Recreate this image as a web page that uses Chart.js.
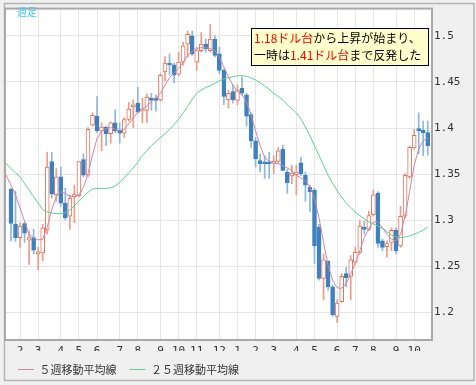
<!DOCTYPE html>
<html>
<head>
<meta charset="utf-8">
<script src="https://cdn.jsdelivr.net/npm/chart.js@4.4.0/dist/chart.umd.min.js"></script>
<style>
  html, body { margin: 0; padding: 0; background: #f0f0f0; }
  #c { display: block; }
</style>
</head>
<body>
<canvas id="c" width="476" height="385"></canvas>
<script>
// weekly candles, index 0 = first week shown
const opens = [1.3335,1.2954,1.2811,1.2964,1.2783,1.2811,1.2634,1.2644,1.2893,1.3637,
  1.3274,1.3470,1.3185,1.3043,1.3256,1.3267,1.3658,1.3488,1.4032,1.4128,
  1.3968,1.4011,1.3940,1.4057,1.3979,1.3943,1.4093,1.4228,1.4271,1.4182,
  1.4192,1.4324,1.4324,1.4306,1.4609,1.4705,1.4687,1.4584,1.4715,1.4911,
  1.5000,1.4715,1.4840,1.4911,1.4840,1.4964,1.4804,1.4626,1.4306,1.4395,
  1.4299,1.4431,1.4360,1.4146,1.3861,1.3648,1.3630,1.3630,1.3619,1.3637,
  1.3772,1.3523,1.3480,1.3495,1.3623,1.3488,1.3356,1.3327,1.2925,1.2367,
  1.2555,1.2278,1.1957,1.2117,1.2420,1.2391,1.2545,1.2651,1.2918,1.2900,
  1.3060,1.3292,1.2776,1.2712,1.2758,1.2893,1.2722,1.3043,1.3470,1.3783,
  1.3993,1.3979,1.3950];
const highs = [1.3345,1.3317,1.2972,1.2979,1.2883,1.2900,1.2705,1.2954,1.3737,1.3737,
  1.3559,1.3577,1.3345,1.3274,1.3381,1.3637,1.3719,1.4004,1.4164,1.4342,
  1.4057,1.4021,1.4068,1.4199,1.4057,1.4110,1.4278,1.4306,1.4441,1.4324,
  1.4370,1.4377,1.4360,1.4591,1.4776,1.4804,1.4705,1.4822,1.4929,1.5053,
  1.5053,1.4876,1.5036,1.4964,1.5125,1.5000,1.4876,1.4644,1.4413,1.4466,
  1.4466,1.4555,1.4377,1.4164,1.3897,1.3719,1.3701,1.3737,1.3701,1.3790,
  1.3815,1.3552,1.3594,1.3594,1.3683,1.3523,1.3381,1.3345,1.2954,1.2634,
  1.2562,1.2295,1.2135,1.2420,1.2491,1.2616,1.2705,1.2996,1.2989,1.3096,
  1.3327,1.3310,1.2794,1.2776,1.2918,1.2918,1.3150,1.3505,1.3808,1.3986,
  1.4164,1.4075,1.4075];
const lows = [1.2776,1.2769,1.2705,1.2758,1.2520,1.2634,1.2463,1.2562,1.2847,1.3239,
  1.3203,1.3150,1.3007,1.2900,1.2972,1.3256,1.3470,1.3470,1.4021,1.3950,
  1.3754,1.3808,1.3836,1.3950,1.3836,1.3897,1.4075,1.4004,1.4164,1.4057,
  1.4057,1.4192,1.4182,1.4288,1.4512,1.4573,1.4491,1.4566,1.4680,1.4769,
  1.4787,1.4626,1.4822,1.4822,1.4822,1.4769,1.4591,1.4253,1.4217,1.4271,
  1.4253,1.4360,1.4021,1.3790,1.3577,1.3523,1.3452,1.3452,1.3505,1.3612,
  1.3534,1.3290,1.3395,1.3274,1.3480,1.3203,1.3096,1.2530,1.2349,1.2135,
  1.2242,1.1957,1.1890,1.2107,1.2278,1.2135,1.2527,1.2634,1.2847,1.2883,
  1.3043,1.2705,1.2669,1.2598,1.2669,1.2634,1.2705,1.3025,1.3452,1.3772,
  1.3719,1.3701,1.3705];
const closes = [1.2964,1.2811,1.2936,1.2858,1.2811,1.2676,1.2651,1.2918,1.3577,1.3285,
  1.3470,1.3185,1.3025,1.3239,1.3274,1.3637,1.3488,1.3986,1.4139,1.3968,
  1.4011,1.3940,1.4057,1.3968,1.3943,1.4093,1.4206,1.4253,1.4171,1.4206,
  1.4335,1.4299,1.4299,1.4573,1.4705,1.4684,1.4573,1.4715,1.4893,1.5018,
  1.4804,1.4840,1.4911,1.4858,1.4964,1.4787,1.4626,1.4342,1.4377,1.4306,
  1.4413,1.4377,1.4128,1.3861,1.3665,1.3612,1.3612,1.3612,1.3637,1.3754,
  1.3541,1.3406,1.3512,1.3523,1.3505,1.3381,1.3310,1.2722,1.2367,1.2569,
  1.2278,1.1975,1.2100,1.2391,1.2377,1.2569,1.2651,1.2936,1.2900,1.3050,
  1.3274,1.2747,1.2705,1.2747,1.2890,1.2669,1.3043,1.3488,1.3790,1.3922,
  1.3968,1.3950,1.3808];

// moving averages, first value belongs to week -2 (left of the plot edge)
const maStart = -2;
const ma5 = [1.3594,1.3480,
  1.3381,1.3274,1.3132,1.2989,1.2847,1.2811,1.2786,1.2794,1.2925,1.3114,
  1.3256,1.3310,1.3292,1.3256,1.3256,1.3274,1.3356,1.3505,1.3708,1.3886,
  1.3968,1.3996,1.4004,1.3986,1.3972,1.3986,1.4046,1.4110,1.4171,1.4206,
  1.4235,1.4288,1.4324,1.4377,1.4466,1.4548,1.4598,1.4644,1.4715,1.4787,
  1.4833,1.4865,1.4872,1.4872,1.4865,1.4840,1.4769,1.4662,1.4555,1.4466,
  1.4395,1.4360,1.4288,1.4146,1.3968,1.3808,1.3683,1.3637,1.3619,1.3612,
  1.3594,1.3566,1.3541,1.3488,1.3459,1.3424,1.3363,1.3239,1.3025,1.2758,
  1.2509,1.2349,1.2267,1.2260,1.2313,1.2420,1.2527,1.2669,1.2811,1.2911,
  1.2979,1.2982,1.2918,1.2847,1.2794,1.2776,1.2847,1.3043,1.3310,1.3594,
  1.3772,1.3861,1.3897];
const ma25 = [1.3683,1.3612,
  1.3559,1.3516,1.3470,1.3399,1.3327,1.3256,1.3185,1.3114,1.3089,1.3078,
  1.3071,1.3071,1.3082,1.3110,1.3157,1.3210,1.3256,1.3303,1.3338,1.3345,
  1.3345,1.3345,1.3352,1.3370,1.3409,1.3459,1.3516,1.3566,1.3630,1.3701,
  1.3754,1.3808,1.3851,1.3897,1.3940,1.3986,1.4039,1.4093,1.4164,1.4235,
  1.4313,1.4377,1.4413,1.4441,1.4459,1.4484,1.4512,1.4534,1.4545,1.4555,
  1.4566,1.4569,1.4562,1.4545,1.4520,1.4491,1.4456,1.4420,1.4377,1.4342,
  1.4306,1.4253,1.4210,1.4164,1.4100,1.4011,1.3915,1.3808,1.3701,1.3594,
  1.3488,1.3399,1.3320,1.3249,1.3185,1.3139,1.3089,1.3050,1.3014,1.2982,
  1.2961,1.2936,1.2911,1.2875,1.2840,1.2818,1.2811,1.2818,1.2829,1.2847,
  1.2868,1.2893,1.2925];

// month ticks: week index where each month starts
const monthWeeks  = [2,6,11,15,19,24,28,33,37,41,46,50,54,58,63,67,72,76,80,85,89];
const monthLabels = ['2','3','4','5','6','7','8','9','10','11','12','1','2','3','4','5','6','7','8','9','10'];
const yTickVals   = [1.2,1.25,1.3,1.35,1.4,1.45,1.5];
const yTickLabels = ['1.2','1.25','1.3','1.35','1.4','1.45','1.5'];

const seriesNames = ['５週移動平均線', '２５週移動平均線'];

const UP_BODY = '#e0735a', UP_WICK = '#ec9c88';
const DN_BODY = '#3d81c0', DN_WICK = '#8cb7dd';
const isUp = (i) => closes[i] >= opens[i];

const wickData = opens.map((o, i) => ({ x: i, y: [lows[i], highs[i]] }));
const bodyData = opens.map((o, i) => ({ x: i, y: [o, closes[i]] }));
const ma5Data  = ma5.map((v, i) => ({ x: i + maStart, y: v }));
const ma25Data = ma25.map((v, i) => ({ x: i + maStart, y: v }));

const frame = {
  id: 'frame',
  beforeDraw(chart) {
    const { ctx, chartArea: a } = chart;
    ctx.save();
    ctx.fillStyle = '#f0f0f0';
    ctx.fillRect(0, 0, chart.width, chart.height);
    ctx.strokeStyle = '#b4b4b4';
    ctx.lineWidth = 1.5;
    ctx.strokeRect(4.5, 3.5, 469.5, 377);
    ctx.fillStyle = '#ffffff';
    ctx.fillRect(a.left, a.top, a.right - a.left, a.bottom - a.top);
    ctx.restore();
  },
  afterDraw(chart) {
    const { ctx, chartArea: a } = chart;
    ctx.save();
    ctx.strokeStyle = '#a9a9a9';
    ctx.lineWidth = 2;
    ctx.strokeRect(a.left, a.top, a.right - a.left, a.bottom - a.top);

    // 週足 label
    ctx.fillStyle = '#39c6f0';
    ctx.font = '10px "Noto Sans CJK JP"';
    ctx.textBaseline = 'middle';
    ctx.fillText('週足', 17, 12);

    // note box
    const bx = 251.5, by = 28.5, bw = 177, bh = 37;
    ctx.fillStyle = '#ffffcc';
    ctx.fillRect(bx, by, bw, bh);
    ctx.strokeStyle = '#000';
    ctx.lineWidth = 1;
    ctx.strokeRect(bx, by, bw, bh);
    ctx.font = '12px "Noto Sans CJK JP"';
    const lines = [
      [['1.18ドル台', '#ff0000'], ['から上昇が始まり、', '#000000']],
      [['一時は', '#000000'], ['1.41ドル台', '#ff0000'], ['まで反発した', '#000000']]
    ];
    const ys = [38.5, 55];
    lines.forEach((parts, li) => {
      let x = 254;
      parts.forEach(([t, c]) => {
        ctx.fillStyle = c;
        ctx.fillText(t, x, ys[li]);
        x += ctx.measureText(t).width;
      });
    });
    ctx.restore();
  }
};

new Chart(document.getElementById('c'), {
  type: 'bar',
  data: {
    datasets: [
      { type: 'line', label: seriesNames[0], data: ma5Data, borderColor: '#cf86a7',
        borderWidth: 1, pointRadius: 0, order: 0 },
      { type: 'line', label: seriesNames[1], data: ma25Data, borderColor: '#5ccf93',
        borderWidth: 1, pointRadius: 0, order: 0 },
      { label: 'wick', data: wickData, barThickness: 1, grouped: false, order: 2,
        backgroundColor: (c) => isUp(c.dataIndex) ? UP_WICK : DN_WICK },
      { label: 'body', data: bodyData, barThickness: 4, grouped: false, order: 1,
        minBarLength: 2, borderWidth: 1, borderSkipped: false,
        backgroundColor: (c) => isUp(c.dataIndex) ? '#ffffff' : DN_BODY,
        borderColor: (c) => isUp(c.dataIndex) ? UP_BODY : DN_BODY }
    ]
  },
  options: {
    responsive: false,
    animation: false,
    devicePixelRatio: 1,
    layout: { padding: { left: 5, top: 4, right: 0, bottom: 0 } },
    font: { family: '"DejaVu Sans Mono"', size: 11 },
    scales: {
      x: {
        type: 'linear', min: -1.32, max: 92.94, offset: false,
        grid: { color: '#e6e6e6', drawTicks: false, offset: false },
        border: { display: false },
        afterBuildTicks: (s) => { s.ticks = monthWeeks.map(v => ({ value: v })); },
        afterFit: (s) => { s.height = 11; },
        ticks: { autoSkip: false, maxRotation: 0, padding: 5, color: '#333',
          font: { family: '"DejaVu Sans Mono"', size: 11 },
          callback: (v, i) => monthLabels[i] }
      },
      y: {
        position: 'right', min: 1.17, max: 1.5296,
        grid: { color: '#e6e6e6', drawTicks: false },
        border: { display: false },
        afterBuildTicks: (s) => { s.ticks = yTickVals.map(v => ({ value: v })); },
        afterFit: (s) => { s.width = 44; },
        ticks: { padding: 2, color: '#333',
          font: { family: '"DejaVu Sans Mono"', size: 11 },
          callback: (v, i) => yTickLabels[i] }
      }
    },
    plugins: {
      tooltip: { enabled: false },
      legend: {
        position: 'bottom', align: 'start',
        labels: {
          filter: (item) => item.datasetIndex < 2,
          usePointStyle: true, pointStyle: 'line', pointStyleWidth: 16,
          padding: 13, color: '#333',
          font: { family: '"Noto Sans CJK JP"', size: 11 }
        }
      }
    }
  },
  plugins: [frame]
});
</script>
</body>
</html>
